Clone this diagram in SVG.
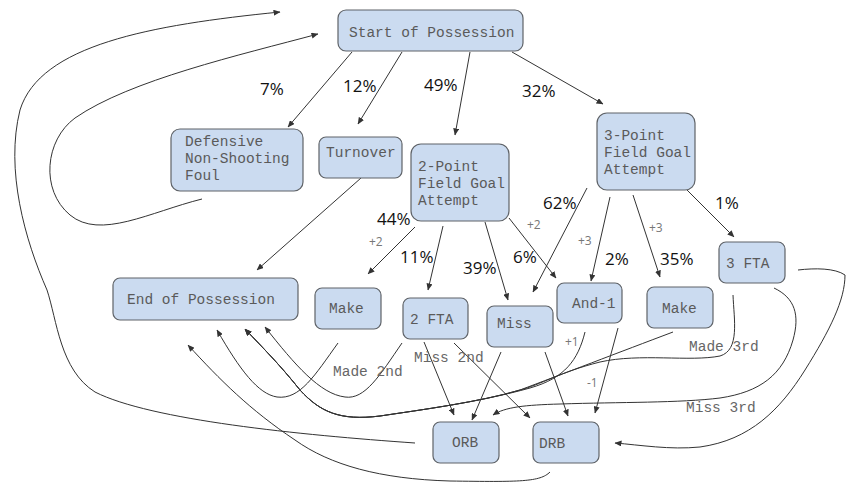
<svg xmlns="http://www.w3.org/2000/svg" width="846" height="482" viewBox="0 0 846 482">
<style>
.n rect{fill:#cbdbf0;stroke:#5f6368;stroke-width:1.2}
.n text{font-family:"Liberation Mono",monospace;font-size:14.5px;fill:#5a5a5a}
.c path{fill:none;stroke:#333;stroke-width:1}
.pct{font-family:"Open Sans",sans-serif;font-size:17px;fill:#111}
.sm{font-family:"Open Sans",sans-serif;font-size:12px;fill:#777}
.lb{font-family:"Liberation Mono",monospace;font-size:14.5px;fill:#666}
</style>
<defs>
<marker id="a" markerUnits="userSpaceOnUse" markerWidth="7" markerHeight="6" refX="6.5" refY="3" orient="auto">
<path d="M0,0 L7,3 L0,6 z" fill="#333"/>
</marker>
</defs>
<rect width="846" height="482" fill="#fff"/>
<g class="c">
<path marker-end="url(#a)" d="M352,52 L288,127"/>
<path marker-end="url(#a)" d="M402,52 L358,124"/>
<path marker-end="url(#a)" d="M470,52 L455,135"/>
<path marker-end="url(#a)" d="M512,52 L603,104"/>
<path marker-end="url(#a)" d="M202,199 C150,212 100,240 70,215 C40,190 45,140 75,118 C130,80 240,55 318,34"/>
<path marker-end="url(#a)" d="M415,443 C300,435 150,420 95,392 C60,370 57,320 47,290 C25,240 5,170 20,110 C40,45 150,25 280,12"/>
<path marker-end="url(#a)" d="M361,178 L257,270"/>
<path marker-end="url(#a)" d="M415,227 L368,274"/>
<path marker-end="url(#a)" d="M443,226 L428,290"/>
<path marker-end="url(#a)" d="M485,222 L508,300"/>
<path marker-end="url(#a)" d="M509,218 L556,278"/>
<path marker-end="url(#a)" d="M587,188 L533,292"/>
<path marker-end="url(#a)" d="M610,197 L591,281"/>
<path marker-end="url(#a)" d="M633,195 L660,277"/>
<path marker-end="url(#a)" d="M687,190 L734,237"/>
<path marker-end="url(#a)" d="M338,343 C315,375 300,400 277,397 C258,394 240,370 217,330"/>
<path marker-end="url(#a)" d="M402,343 C380,375 365,400 345,397 C320,394 295,365 265,327"/>
<path marker-end="url(#a)" d="M550,472 C540,482 520,482 450,481 C380,479 330,465 295,440 C250,410 220,380 188,345"/>
<path marker-end="url(#a)" d="M673,332 C620,352 560,375 520,390 C480,402 420,410 380,416 C340,421 320,412 300,390 C280,365 265,350 245,329"/>
<path marker-end="url(#a)" d="M733,295 C734,320 740,350 720,356 C690,362 640,353 600,362 C560,372 540,385 520,390 C480,402 420,410 380,416 C340,421 320,412 300,390 C280,365 265,350 245,329"/>
<path marker-end="url(#a)" d="M585,332 C578,360 565,378 530,388 C480,402 420,410 380,416 C340,421 320,412 300,390 C280,365 265,350 245,329"/>
<path marker-end="url(#a)" d="M618,328 L595,413"/>
<path marker-end="url(#a)" d="M501,352 L472,420"/>
<path marker-end="url(#a)" d="M545,352 L568,416"/>
<path marker-end="url(#a)" d="M424,342 L454,415"/>
<path marker-end="url(#a)" d="M454,343 L530,418"/>
<path marker-end="url(#a)" d="M774,288 C795,298 800,315 793,340 C783,375 760,392 720,398 C680,403 620,402 560,404 C525,405 505,407 493,415"/>
<path marker-end="url(#a)" d="M798,270 C815,268 835,268 845,275 C845,300 830,330 805,370 C780,410 750,440 700,447 C670,450 640,445 615,443"/>
</g>
<g id="start" class="n"><rect x="338" y="10" width="185" height="41" rx="8"/><text x="349" y="37">Start of Possession</text></g>
<g id="foul" class="n"><rect x="171" y="129" width="132" height="62" rx="9"/><text x="185" y="146">Defensive</text><text x="185" y="163">Non-Shooting</text><text x="185" y="180">Foul</text></g>
<g id="turnover" class="n"><rect x="319" y="137" width="83" height="41" rx="7"/><text x="326" y="157">Turnover</text></g>
<g id="two" class="n"><rect x="411" y="144" width="98" height="77" rx="10"/><text x="418" y="171">2-Point</text><text x="418" y="188">Field Goal</text><text x="418" y="205">Attempt</text></g>
<g id="three" class="n"><rect x="597" y="113" width="98" height="77" rx="10"/><text x="604" y="140">3-Point</text><text x="604" y="157">Field Goal</text><text x="604" y="174">Attempt</text></g>
<g id="end" class="n"><rect x="113" y="278" width="185" height="42" rx="7"/><text x="127" y="304">End of Possession</text></g>
<g id="makeL" class="n"><rect x="315" y="288" width="66" height="41" rx="7"/><text x="329" y="313">Make</text></g>
<g id="fta2" class="n"><rect x="403" y="298" width="65" height="41" rx="7"/><text x="410" y="324">2 FTA</text></g>
<g id="miss" class="n"><rect x="487" y="306" width="66" height="41" rx="7"/><text x="497" y="328">Miss</text></g>
<g id="and1" class="n"><rect x="557" y="283" width="65" height="40" rx="7"/><text x="572" y="308">And-1</text></g>
<g id="makeR" class="n"><rect x="647" y="287" width="66" height="41" rx="7"/><text x="662" y="313">Make</text></g>
<g id="fta3" class="n"><rect x="719" y="242" width="66" height="41" rx="7"/><text x="726" y="268">3 FTA</text></g>
<g id="orb" class="n"><rect x="433" y="422" width="66" height="41" rx="7"/><text x="452" y="447">ORB</text></g>
<g id="drb" class="n"><rect x="533" y="422" width="66" height="41" rx="7"/><text x="539" y="448">DRB</text></g>
<g id="labels">
<text class="pct" x="260" y="95">7%</text>
<text class="pct" x="343" y="92">12%</text>
<text class="pct" x="424" y="91">49%</text>
<text class="pct" x="522" y="97">32%</text>
<text class="pct" x="543" y="209">62%</text>
<text class="pct" x="715" y="209">1%</text>
<text class="pct" x="377" y="225">44%</text>
<text class="pct" x="400" y="263">11%</text>
<text class="pct" x="463" y="274">39%</text>
<text class="pct" x="513" y="263">6%</text>
<text class="pct" x="605" y="265">2%</text>
<text class="pct" x="660" y="265">35%</text>
<text class="sm" x="527" y="229">+2</text>
<text class="sm" x="369" y="246">+2</text>
<text class="sm" x="578" y="245">+3</text>
<text class="sm" x="649" y="232">+3</text>
<text class="sm" x="565" y="346">+1</text>
<text class="sm" x="587" y="387">-1</text>
<text class="lb" x="333" y="376">Made 2nd</text>
<text class="lb" x="414" y="362">Miss 2nd</text>
<text class="lb" x="689" y="351">Made 3rd</text>
<text class="lb" x="686" y="412">Miss 3rd</text>
</g>
</svg>
